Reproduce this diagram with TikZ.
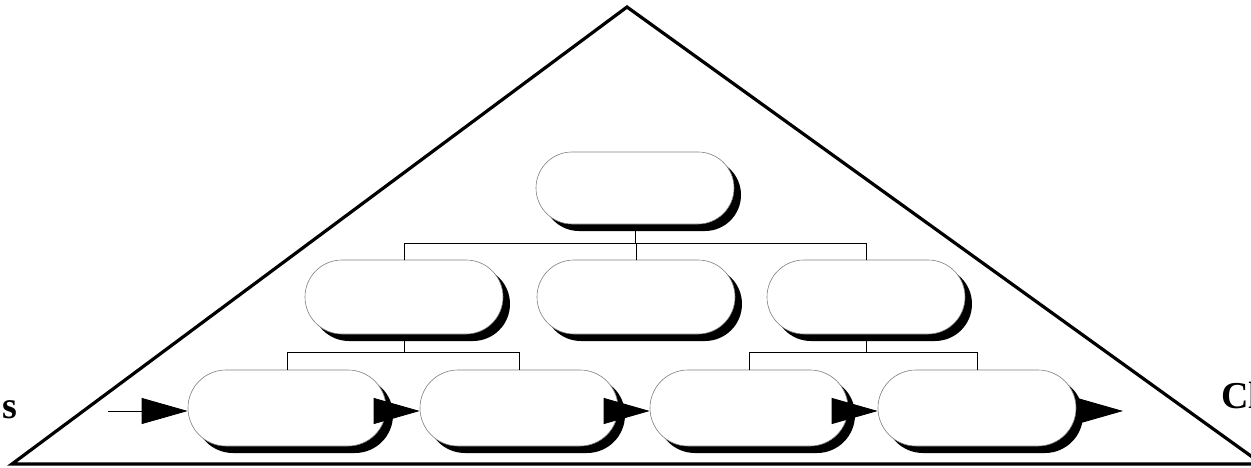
\documentclass[tikz,border=0pt]{standalone}
\usepackage{fontspec}
\setmainfont{Liberation Serif}
\usetikzlibrary{arrows.meta,shadows}
\tikzset{
  box/.style={draw=black!50, line width=0.6pt, fill=white, rounded corners=36pt,
    minimum width=198pt, minimum height=72pt, inner sep=0pt,
    drop shadow={shadow xshift=7pt, shadow yshift=-7pt, fill=black, opacity=1}},
  link/.style={line width=0.8pt, draw=black},
  flow/.style={line width=0.8pt, -{Triangle[length=46pt,width=26pt]}},
  side/.style={font=\bfseries\fontsize{38}{40}\selectfont, inner sep=0pt}
}
\begin{document}
\begin{tikzpicture}[x=1pt,y=-1pt]
\useasboundingbox (0,0) rectangle (1251,468);
% pyramid
\draw[line width=3.2pt, line join=miter] (12,464) -- (627,7) -- (1262,464) -- cycle;
% nodes
\node[box] (top) at (635,188) {};
\node[box, minimum height=74pt, rounded corners=37pt] (m1) at (404,297) {};
\node[box, minimum height=74pt, rounded corners=37pt] (m2) at (636,297) {};
\node[box, minimum height=74pt, rounded corners=37pt] (m3) at (866,297) {};
\node[box, minimum height=76pt, rounded corners=38pt] (b1) at (287,408) {};
\node[box, minimum height=76pt, rounded corners=38pt] (b2) at (519,408) {};
\node[box, minimum height=76pt, rounded corners=38pt] (b3) at (749,408) {};
\node[box, minimum height=76pt, rounded corners=38pt] (b4) at (977,408) {};
% tree connectors
\coordinate (barA) at (0,243);
\coordinate (barB) at (0,352);
\draw[link] (top.south) ++(0,7) -- (top.south |- barA);
\draw[link] (m1.north) |- (m3.north |- barA) -- (m3.north);
\draw[link] (m2.north) -- (m2.north |- barA);
\draw[link] (m1.south) ++(0,7) -- (m1.south |- barB);
\draw[link] (b1.north) |- (b2.north |- barB) -- (b2.north);
\draw[link] (m3.south) ++(0,7) -- (m3.south |- barB);
\draw[link] (b3.north) |- (b4.north |- barB) -- (b4.north);
% flow arrows
\coordinate (in) at (108,411);
\coordinate (out) at (1123,411);
\draw[flow] (in) -- (b1.west |- in);
\draw[flow] (b1.east |- in) -- (b2.west |- in);
\draw[flow] (b2.east |- in) -- (b3.west |- in);
\draw[flow] (b3.east |- in) -- (b4.west |- in);
\draw[flow] (b4.east |- in) -- (out);
% side labels
\node[side, anchor=base west] (ls) at (2,418) {s};
\node[side, anchor=base west] (rs) at (1221,408) {Cl};
\end{tikzpicture}
\end{document}
